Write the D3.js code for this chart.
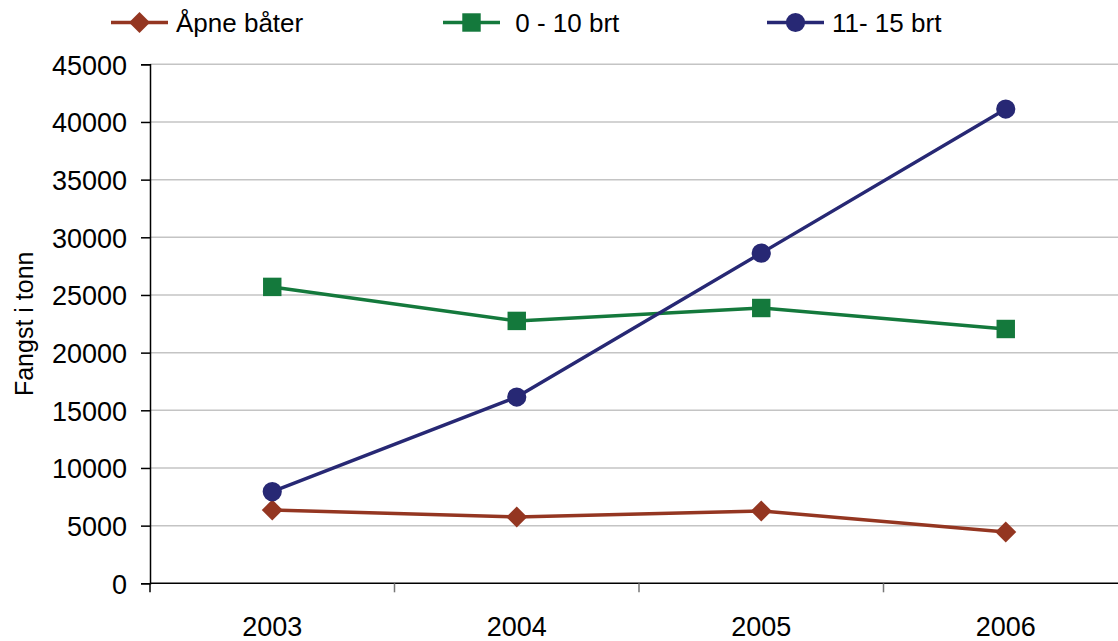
<!DOCTYPE html>
<html><head><meta charset="utf-8">
<script src="https://cdn.jsdelivr.net/npm/d3@7"></script>
<style>
body{margin:0;background:#fff;}
svg{display:block;font-family:"Liberation Sans",Arial,sans-serif;}
</style></head>
<body><svg id="c" width="1118" height="641"></svg>
<script>
const years = ["2003","2004","2005","2006"];
const seriesNames = ["Åpne båter"," 0 - 10 brt","11- 15 brt"];
const apne = [6350, 5750, 6270, 4450];
const brt0_10 = [25700, 22750, 23870, 22050];
const brt11_15 = [7950, 16150, 28630, 41120];
const yTicks = [0,5000,10000,15000,20000,25000,30000,35000,40000,45000];
const yTitle = "Fangst i tonn";

const colors = ["#943621","#14793c","#272874"];
const symbols = [d3.symbolSquare, d3.symbolSquare, d3.symbolCircle];
const symRot = [45, 0, 0];
const symSize = [220, 340, 290];
const series = [apne, brt0_10, brt11_15];

const svg = d3.select("#c");
const L = 150, T = 64.3, B = 583.3, R = 1118, bandW = 244.5;

const x = d3.scaleBand().domain(years).range([L, L + bandW*years.length]).padding(0);
const y = d3.scaleLinear().domain([0,45000]).range([B, T]);

// gridlines
svg.append("g").selectAll("line").data(yTicks.filter(d=>d>0)).join("line")
  .attr("x1", L).attr("x2", R)
  .attr("y1", d=>y(d)).attr("y2", d=>y(d))
  .attr("stroke","#c4c4c4").attr("stroke-width",1.5);

// y axis
const ya = svg.append("g").attr("transform",`translate(${L},0)`)
  .call(d3.axisLeft(y).tickValues(yTicks).tickSize(9).tickPadding(14).tickFormat(d3.format("d")));
ya.select(".domain").attr("stroke","#000").attr("stroke-width",1.5);
ya.selectAll(".tick line").attr("stroke","#000").attr("stroke-width",1.5);
ya.selectAll("text").attr("font-size",27).attr("fill","#000").attr("font-family","Liberation Sans, Arial, sans-serif").attr("dy","0.36em");

// x axis
const xa = svg.append("g").attr("transform",`translate(0,${B})`)
  .call(d3.axisBottom(x).tickSize(0).tickPadding(34));
xa.select(".domain").remove();
svg.append("line").attr("x1",L).attr("x2",R).attr("y1",B).attr("y2",B)
  .attr("stroke","#000").attr("stroke-width",1.5);
const bounds = years.map(d=>x(d));
svg.append("g").selectAll("line").data(bounds).join("line")
  .attr("x1",d=>d).attr("x2",d=>d).attr("y1",B).attr("y2",B+9)
  .attr("stroke",(d,i)=>i===0?"#000":"#777").attr("stroke-width",1.5);
xa.selectAll("text").attr("font-size",27).attr("fill","#000").attr("font-family","Liberation Sans, Arial, sans-serif");

// y title
svg.append("text").attr("transform",`translate(33,${(T+B)/2}) rotate(-90)`)
  .attr("text-anchor","middle").attr("font-size",25).text(yTitle);

// lines
const line = d3.line().x((d,i)=>x(years[i])+x.bandwidth()/2).y(d=>y(d));
series.forEach((s,k)=>{
  svg.append("path").datum(s).attr("d",line).attr("fill","none")
    .attr("stroke",colors[k]).attr("stroke-width",3.5).attr("stroke-linejoin","round");
  svg.append("g").selectAll("path").data(s).join("path")
    .attr("transform",(d,i)=>`translate(${x(years[i])+x.bandwidth()/2},${y(d)}) rotate(${symRot[k]})`)
    .attr("d",d3.symbol().type(symbols[k]).size(symSize[k]))
    .attr("fill",colors[k]);
});

// legend
const legX = [111, 443, 767];
const legY = 22.5;
seriesNames.forEach((n,k)=>{
  const g = svg.append("g").attr("transform",`translate(${legX[k]},${legY})`);
  g.append("line").attr("x1",0).attr("x2",57).attr("stroke",colors[k]).attr("stroke-width",3.5);
  g.append("path").attr("transform",`translate(28.5,0) rotate(${symRot[k]})`)
    .attr("d",d3.symbol().type(symbols[k]).size(symSize[k])).attr("fill",colors[k]);
  g.append("text").attr("x",65).attr("dy","0.36em").attr("font-size",26)
    .style("white-space","pre").text(n);
});
</script></body></html>
